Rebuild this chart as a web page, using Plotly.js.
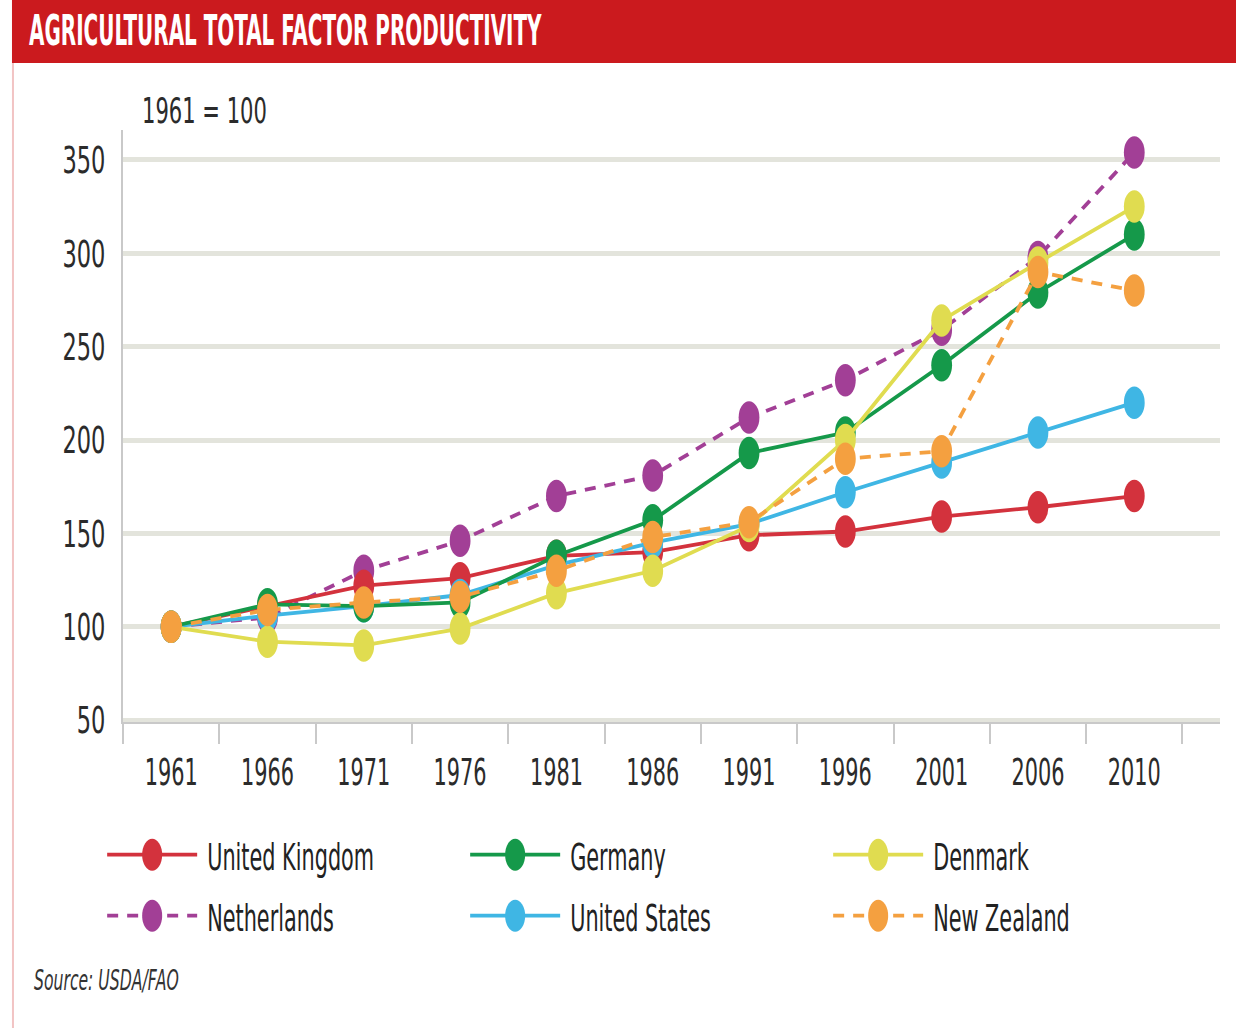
<!DOCTYPE html>
<html>
<head>
<meta charset="utf-8">
<script src="https://cdn.plot.ly/plotly-3.0.1.min.js"></script>
<style>
html,body{margin:0;padding:0;background:#ffffff;}
#chart{width:1236px;height:1028px;}
</style>
</head>
<body>
<div id="chart"></div>
<script>
// ---- data (index, 1961 = 100) ----
const years = ['1961','1966','1971','1976','1981','1986','1991','1996','2001','2006','2010'];
const unitedKingdom = [100, 111, 122, 126, 138, 140, 149, 151, 159, 164, 170];
const germany       = [100, 112, 111, 113, 138, 157, 193, 204, 240, 279, 310];
const denmark       = [100,  92,  90,  99, 118, 130, 154, 200, 264, 295, 325];
const netherlands   = [100, 105, 130, 146, 170, 181, 212, 232, 259, 298, 354];
const unitedStates  = [100, 106, 111, 117, 133, 145, 155, 172, 188, 204, 220];
const newZealand    = [100, 109, 113, 116, 130, 148, 156, 190, 194, 290, 280];
const yTicks = [50, 100, 150, 200, 250, 300, 350];

const FONT = '"DejaVu Sans Condensed", "Liberation Sans Narrow", "Arial Narrow", sans-serif';
const GREY = '#c9c9c9';

function series(name, y, color, dash, legend, rank) {
  return {
    type: 'scatter', mode: 'lines+markers', name: name, x: years, y: y,
    line: {color: color, width: 3.8, dash: dash},
    marker: {color: color, size: 26},
    legend: legend, legendrank: rank, hoverinfo: 'skip'
  };
}

const data = [
  series('Netherlands',    netherlands,   '#a23f96', '11px,9px', 'legend2', 1),
  series('United Kingdom', unitedKingdom, '#d3323d', 'solid',    'legend',  1),
  series('United States',  unitedStates,  '#3fb6e4', 'solid',    'legend2', 2),
  series('Germany',        germany,       '#15994a', 'solid',    'legend',  2),
  series('Denmark',        denmark,       '#e0dc50', 'solid',    'legend',  3),
  series('New Zealand',    newZealand,    '#f4a040', '11px,9px', 'legend2', 3)
];

function legendOpts(yPos) {
  return {
    x: -0.019, y: yPos, xanchor: 'left', yanchor: 'middle', orientation: 'h',
    entrywidth: 253, entrywidthmode: 'pixels', itemwidth: 95,
    font: {family: FONT, size: 38, color: '#222222'},
    bgcolor: 'rgba(0,0,0,0)', borderwidth: 0, traceorder: 'normal'
  };
}

const layout = {
  width: 1236, height: 1028,
  margin: {l: 123, r: 16, t: 130, b: 306},
  paper_bgcolor: '#ffffff', plot_bgcolor: '#ffffff',
  font: {family: FONT, size: 38, color: '#222222'},
  showlegend: true,
  xaxis: {
    type: 'category', range: [-0.5, 10.89], tickson: 'boundaries', tickangle: 0,
    ticks: 'outside', ticklen: 20, tickwidth: 2, tickcolor: GREY,
    showline: true, linecolor: GREY, linewidth: 2, showgrid: false, zeroline: false,
    tickfont: {family: FONT, size: 38, color: '#2b2b2b'}, ticklabelstandoff: 15
  },
  yaxis: {
    range: [49, 366], tickmode: 'array', tickvals: yTicks,
    showgrid: true, gridcolor: '#e3e4dc', gridwidth: 5,
    showline: true, linecolor: GREY, linewidth: 2, zeroline: false, ticks: '',
    tickfont: {family: FONT, size: 38, color: '#2b2b2b'}, ticklabelstandoff: 8
  },
  legend:  legendOpts((722 - 855) / 592),
  legend2: legendOpts((722 - 916) / 592),
  shapes: [
    {type: 'rect', xref: 'paper', yref: 'paper', x0: -0.1012, x1: 1.02, y0: 1.1132, y1: 1.23,
     fillcolor: '#cb1a1e', line: {width: 0}, layer: 'below'},
    {type: 'line', xref: 'paper', yref: 'paper', x0: -0.1003, x1: -0.1003, y0: 1.1132, y1: -0.53,
     line: {color: '#f2c4c4', width: 2}}
  ],
  annotations: [
    {text: '<b>AGRICULTURAL TOTAL FACTOR PRODUCTIVITY</b>', xref: 'paper', yref: 'paper',
     x: -0.0875, y: (722 - 31) / 592, xanchor: 'left', yanchor: 'middle', align: 'left',
     showarrow: false, font: {family: FONT, size: 42, color: '#ffffff'}},
    {text: '1961 = 100', xref: 'paper', yref: 'paper',
     x: 0.0155, y: (722 - 110) / 592, xanchor: 'left', yanchor: 'middle', align: 'left',
     showarrow: false, font: {family: FONT, size: 36, color: '#2b2b2b'}},
    {text: '<i>Source: USDA/FAO</i>', xref: 'paper', yref: 'paper',
     x: -0.083, y: (722 - 980) / 592, xanchor: 'left', yanchor: 'middle', align: 'left',
     showarrow: false, font: {family: FONT, size: 28, color: '#333333'}}
  ]
};

// horizontal condensing of text (the reference uses a very condensed typeface)
function squeeze(el, s) {
  const t = el.getAttribute('transform') || '';
  if (t.indexOf('scale(') >= 0) return;
  const x = parseFloat(el.getAttribute('x')) || 0;
  el.setAttribute('transform', (t + ' translate(' + x + ',0) scale(' + s + ',1) translate(' + (-x) + ',0)').trim());
}
function widthOf(el) { try { return el.getBBox().width || 1; } catch (e) { return 1; } }

function tweak(gd) {
  try {
    const xt = gd.querySelectorAll('.xtick text');
    if (xt.length) { const s = 53 / widthOf(xt[0]); xt.forEach(function (el) { squeeze(el, s); }); }
    const yt = gd.querySelectorAll('.ytick text');
    if (yt.length) {
      let ref = yt[yt.length - 1];
      yt.forEach(function (el) { if (el.textContent === '350') ref = el; });
      const s = 43 / widthOf(ref); yt.forEach(function (el) { squeeze(el, s); });
    }
    const lt = gd.querySelectorAll('.infolayer g.traces text');
    let ukEl = null;
    lt.forEach(function (el) { if (el.textContent === 'United Kingdom') ukEl = el; });
    if (ukEl) { const s = 167 / widthOf(ukEl); lt.forEach(function (el) { squeeze(el, s); }); }
    const ann = gd.querySelectorAll('.annotation-text');
    const targets = [513, 125, 145];
    ann.forEach(function (el, i) { if (targets[i]) squeeze(el, targets[i] / widthOf(el)); });
    gd.querySelectorAll('.infolayer .traces').forEach(function (g) {
      g.querySelectorAll('path.js-line').forEach(function (p) { p.setAttribute('d', 'M5,0h90'); });
      g.querySelectorAll('.legendpoints path.scatterpts').forEach(function (p) {
        p.setAttribute('transform', 'translate(50,0) scale(1.25,2)');
      });
    });
    gd.querySelectorAll('.scatterlayer path.point').forEach(function (p) {
      const t = p.getAttribute('transform') || '';
      if (t.indexOf('scale(') < 0) p.setAttribute('transform', t + ' scale(0.8,1.25)');
    });
  } catch (e) { console.log(e); }
}

Plotly.newPlot('chart', data, layout, {staticPlot: true}).then(function (gd) {
  tweak(gd);
  gd.on('plotly_afterplot', function () { tweak(gd); });
  setTimeout(function () { tweak(gd); }, 200);
  setTimeout(function () { tweak(gd); }, 800);
});
</script>
</body>
</html>
